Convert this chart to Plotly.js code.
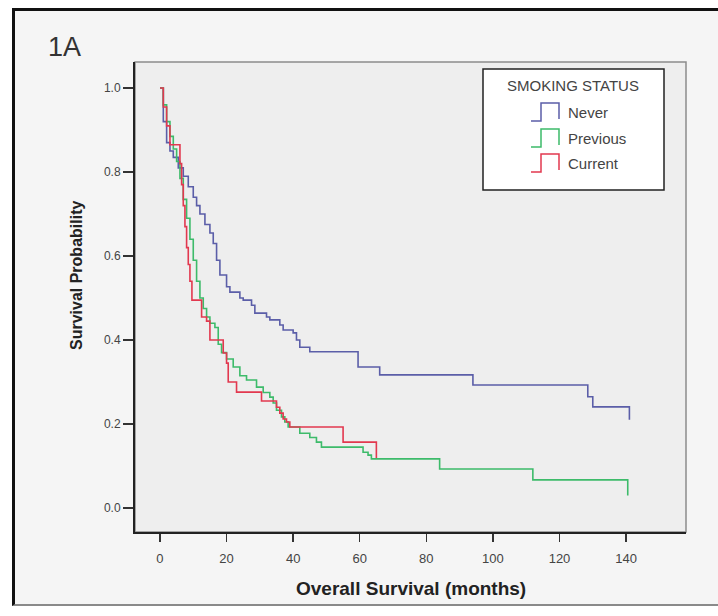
<!DOCTYPE html>
<html><head><meta charset="utf-8">
<script src="https://cdn.plot.ly/plotly-3.0.1.min.js"></script>
<style>
html,body{margin:0;padding:0;background:#fff;}
#frame{position:absolute;left:12px;top:8px;width:706px;height:598px;border-left:3px solid #111;border-top:3px solid #111;border-bottom:2px solid #8a8a8a;background:#f5f5f5;box-sizing:border-box;}
#chart{position:absolute;left:0;top:0;width:718px;height:616px;}
</style></head><body>
<div id="frame"></div>
<div id="chart"></div>
<script>
// Data
const seriesNames = ["Never", "Previous", "Current"];
const seriesColors = ["#5b5ea8", "#3dbb6a", "#e2384f"];

const neverMonths = [0, 1, 2, 3, 4, 5.5, 7, 8.5, 10, 11, 12, 13.5, 15, 16, 17, 18, 20, 21, 24, 25, 27.5, 28.5, 32, 33, 36, 37, 40, 41, 42, 45, 59.5, 66, 94, 128.5, 130, 141];
const neverSurv   = [1.0, 0.92, 0.87, 0.85, 0.835, 0.81, 0.79, 0.765, 0.74, 0.72, 0.70, 0.675, 0.655, 0.63, 0.59, 0.555, 0.527, 0.514, 0.50, 0.495, 0.483, 0.464, 0.455, 0.448, 0.436, 0.424, 0.417, 0.40, 0.383, 0.372, 0.336, 0.317, 0.293, 0.265, 0.241, 0.21];

const previousMonths = [0, 1, 2, 3, 4, 5, 6, 7, 8, 9, 10, 11, 12, 13, 14, 15, 16.5, 17.5, 18.5, 20, 22, 24, 26, 29, 31, 33, 34, 35, 36.5, 37.5, 38.5, 42, 45, 47, 48.5, 61, 62.5, 63.5, 84, 112, 140.5];
const previousSurv   = [1.0, 0.96, 0.92, 0.885, 0.855, 0.825, 0.785, 0.735, 0.69, 0.64, 0.59, 0.54, 0.50, 0.475, 0.455, 0.44, 0.43, 0.39, 0.37, 0.355, 0.336, 0.315, 0.305, 0.288, 0.275, 0.264, 0.25, 0.233, 0.217, 0.205, 0.193, 0.178, 0.168, 0.157, 0.145, 0.133, 0.126, 0.117, 0.093, 0.067, 0.03];

const currentMonths = [0, 1, 2, 3, 6, 6.5, 7, 7.5, 8, 8.5, 9, 9.6, 12.5, 14, 15, 19, 20, 20.5, 23, 30.5, 35, 36, 37, 38, 39, 55, 65];
const currentSurv   = [1.0, 0.955, 0.91, 0.865, 0.82, 0.77, 0.72, 0.67, 0.62, 0.58, 0.54, 0.495, 0.455, 0.445, 0.40, 0.369, 0.345, 0.30, 0.276, 0.255, 0.24, 0.226, 0.212, 0.205, 0.193, 0.157, 0.119];

const xTicks = [0, 20, 40, 60, 80, 100, 120, 140];
const yTicks = [0.0, 0.2, 0.4, 0.6, 0.8, 1.0];

const allX = [neverMonths, previousMonths, currentMonths];
const allY = [neverSurv, previousSurv, currentSurv];

const traces = seriesNames.map((n, i) => ({
  type: 'scatter', mode: 'lines', name: n,
  x: allX[i], y: allY[i],
  line: {shape: 'hv', color: seriesColors[i], width: 1.6},
  showlegend: false, hoverinfo: 'skip'
}));

// pixel -> paper helpers (plot area 135..686 x 62..532)
const L = 135, R = 686, T = 62, B = 532;
const px = v => (v - L) / (R - L);
const py = v => (B - v) / (B - T);
const FONT = 'Liberation Sans, Arial, sans-serif';

const shapes = [
  {type: 'rect', xref: 'paper', yref: 'paper', x0: 0, x1: 1, y0: 0, y1: 1,
   line: {color: '#8c8c8c', width: 1.5}, layer: 'below'},
  // legend box
  {type: 'rect', xref: 'paper', yref: 'paper', x0: px(483), x1: px(664), y0: py(190), y1: py(69),
   line: {color: '#222', width: 1.5}, fillcolor: '#ffffff'}
];
const annotations = [
  {xref: 'paper', yref: 'paper', x: px(64), y: py(47), text: '1A', showarrow: false,
   font: {family: FONT, size: 27, color: '#333'}, xanchor: 'center', yanchor: 'middle'},
  {xref: 'paper', yref: 'paper', x: px(573), y: py(85), text: 'SMOKING STATUS', showarrow: false,
   font: {family: FONT, size: 15, color: '#444'}, xanchor: 'center', yanchor: 'middle'},
  {xref: 'paper', yref: 'paper', x: px(76), y: py(276), text: '<b>Survival Probability</b>', showarrow: false,
   textangle: -90, font: {family: FONT, size: 16, color: '#222'}, xanchor: 'center', yanchor: 'middle'},
  {xref: 'paper', yref: 'paper', x: px(410.5), y: py(588), text: '<b>Overall Survival (months)</b>', showarrow: false,
   font: {family: FONT, size: 19, color: '#222'}, xanchor: 'center', yanchor: 'middle'}
];
const rowY = [112, 138, 163];
seriesNames.forEach((n, i) => {
  const c = rowY[i];
  shapes.push({type: 'path', xref: 'paper', yref: 'paper',
    path: `M ${px(531)} ${py(c + 9)} L ${px(541)} ${py(c + 9)} L ${px(541)} ${py(c - 9)} L ${px(559)} ${py(c - 9)} L ${px(559)} ${py(c + 7)}`,
    line: {color: seriesColors[i], width: 1.5}});
  annotations.push({xref: 'paper', yref: 'paper', x: px(566), y: py(c), text: n, showarrow: false,
    font: {family: FONT, size: 15, color: '#444'}, xanchor: 'left', yanchor: 'middle'});
});

const layout = {
  width: 718, height: 616,
  margin: {l: L, r: 718 - R, t: T, b: 616 - B, pad: 0},
  paper_bgcolor: 'rgba(0,0,0,0)',
  plot_bgcolor: '#eeeeee',
  font: {family: FONT, color: '#333'},
  xaxis: {
    range: [-7.5, 158], tickvals: xTicks, ticktext: xTicks.map(String),
    showgrid: false, zeroline: false, showline: true, linecolor: '#222', linewidth: 2,
    ticks: 'outside', ticklen: 8, tickwidth: 1.3, tickcolor: '#333',
    ticklabelstandoff: 5,
    tickfont: {size: 13, color: '#444'}
  },
  yaxis: {
    range: [-0.057, 1.062], tickvals: yTicks, ticktext: yTicks.map(v => v.toFixed(1)),
    showgrid: false, zeroline: false, showline: true, linecolor: '#222', linewidth: 2,
    ticks: 'outside', ticklen: 10, tickwidth: 1.3, tickcolor: '#333',
    ticklabelstandoff: 0,
    tickfont: {size: 12, color: '#444'}
  },
  shapes: shapes,
  annotations: annotations
};

Plotly.newPlot('chart', traces, layout, {displayModeBar: false, staticPlot: true});
</script>
</body></html>
